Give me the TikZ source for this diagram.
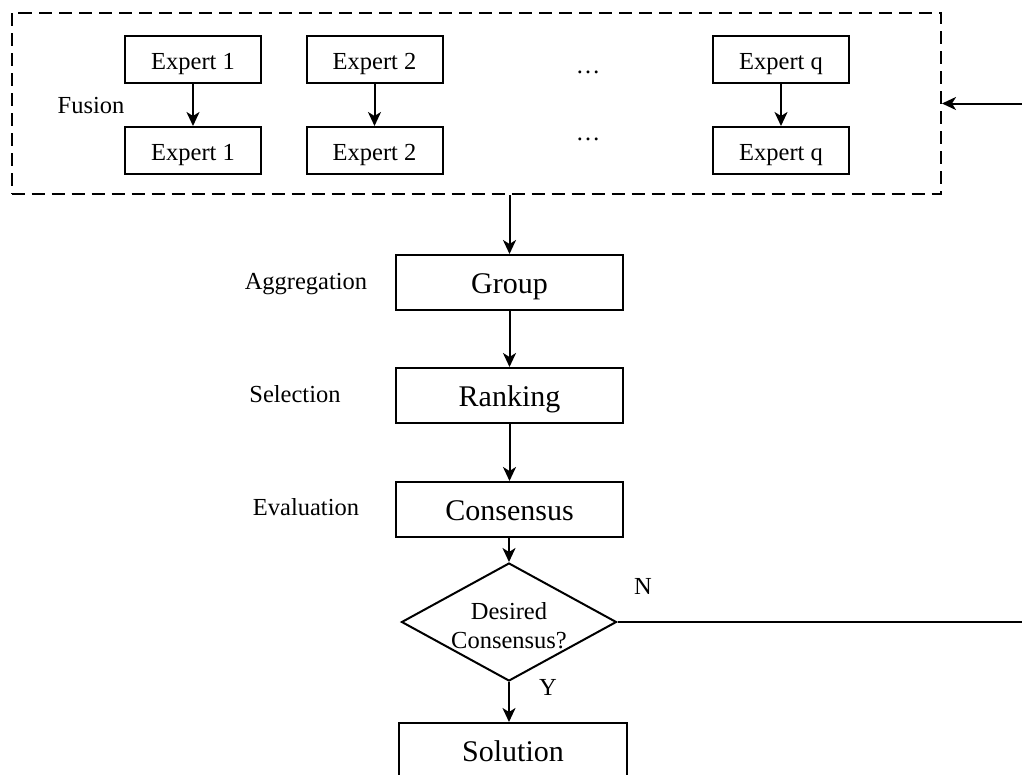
\documentclass[tikz,border=0pt]{standalone}
\usepackage{fontspec}
\setmainfont{Liberation Serif}
\usetikzlibrary{arrows.meta,shapes.geometric}
\begin{document}
\begin{tikzpicture}[x=1pt,y=-1pt,
  line width=2pt,
  sm/.style={font=\fontsize{24.5}{29}\selectfont},
  bg/.style={font=\fontsize{30}{36}\selectfont},
  ebox/.style={draw, sm, minimum width=136pt, minimum height=47pt, inner sep=0pt, text height=19pt, text depth=0pt},
  mbox/.style={draw, bg, minimum width=227pt, minimum height=55pt, inner sep=0pt, text height=21pt, text depth=0pt},
  lbl/.style={sm, inner sep=0pt, anchor=base},
  arr/.style={-{Stealth[length=14pt,width=13pt,inset=4pt]}, line width=2pt},
]
\clip (0,0) rectangle (1022,774);
\node[draw, dash pattern=on 13pt off 7pt, minimum width=929.5pt, minimum height=181pt, inner sep=0pt] (fus) at (476.25,103.5) {};

\node[ebox] (e1a) at (193,59.5) {Expert 1};
\node[ebox] (e1b) at (193,150.5) {Expert 1};
\node[ebox] (e2a) at (374.5,59.5) {Expert 2};
\node[ebox] (e2b) at (374.5,150.5) {Expert 2};
\node[ebox] (eqa) at (781,59.5) {Expert q};
\node[ebox] (eqb) at (781,150.5) {Expert q};
\node[lbl] (d1) at (588,73) {…};
\node[lbl] (d2) at (588,140) {…};
\node[lbl] (fl) at (91,113) {Fusion};

\node[mbox] (grp) at (509.5,282.5) {Group};
\node[mbox] (rnk) at (509.5,395.5) {Ranking};
\node[mbox] (cns) at (509.5,509.5) {Consensus};
\node[draw, diamond, minimum width=215pt, minimum height=118pt, inner sep=0pt] (dia) at (509,622) {};
\node[sm, align=center, inner sep=0pt] (dtx) at (509,626) {Desired\\Consensus?};
\node[mbox, minimum width=228pt] (sol) at (513,750.5) {Solution};

\node[lbl] (la) at (306,289) {Aggregation};
\node[lbl] (ls) at (295,402) {Selection};
\node[lbl] (le) at (306,515) {Evaluation};
\node[lbl] (ln) at (643,594) {N};
\node[lbl] (ly) at (548,695) {Y};

\draw[arr] (e1a) -- (e1b);
\draw[arr] (e2a) -- (e2b);
\draw[arr] (eqa) -- (eqb);
\draw[arr] (grp.north |- fus.south) -- (grp.north);
\draw[arr] (grp) -- (rnk);
\draw[arr] (rnk) -- (cns);
\draw[arr] (cns.south -| dia.north) -- (dia.north);
\draw[arr] (dia.south) -- (dia.south |- sol.north);
\draw[arr] (dia.east) -- (1040,622) |- (fus.east);
\end{tikzpicture}
\end{document}
